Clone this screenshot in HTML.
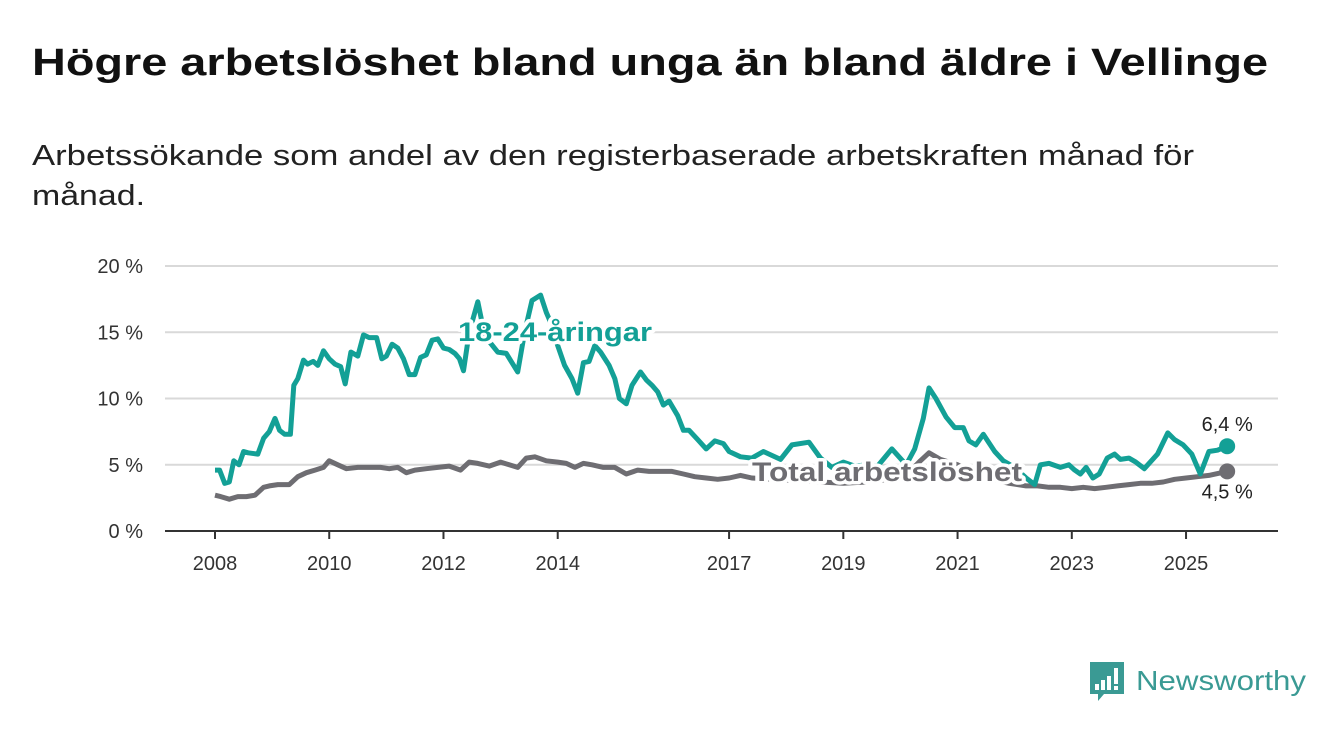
<!DOCTYPE html>
<html><head><meta charset="utf-8"><style>
body{margin:0;background:#fff;}
svg{display:block;font-family:"Liberation Sans","DejaVu Sans",sans-serif;}
</style></head><body>
<svg id="chart" width="1340" height="734" viewBox="0 0 1340 734">
<text x="32" y="75" font-size="38" font-weight="bold" fill="#111" textLength="1236" lengthAdjust="spacingAndGlyphs">Högre arbetslöshet bland unga än bland äldre i Vellinge</text>
<text x="32" y="165" font-size="29" fill="#222" textLength="1162" lengthAdjust="spacingAndGlyphs">Arbetssökande som andel av den registerbaserade arbetskraften månad för</text>
<text x="32" y="205" font-size="29" fill="#222" textLength="113" lengthAdjust="spacingAndGlyphs">månad.</text>
<g id="grid"></g><g id="axes"></g><g id="lines"></g><g id="labels"></g>
<g>
<path d="M1090 662h34v32h-20l-6 7v-7h-8z" fill="#3a9a94"/>
<rect x="1095" y="684" width="4" height="6" fill="#fff"/><rect x="1101" y="680" width="4" height="10" fill="#fff"/><rect x="1107" y="676" width="4" height="14" fill="#fff"/><rect x="1114" y="668" width="4" height="16" fill="#fff"/><rect x="1114" y="686" width="4" height="4" fill="#fff"/>
<text x="1136" y="690" font-size="28" fill="#3a9a94" textLength="170" lengthAdjust="spacingAndGlyphs">Newsworthy</text>
</g>
</svg>
<script>
const youthDates=[
2008.0,2008.08,2008.17,2008.25,2008.33,2008.42,2008.5,2008.58,2008.75,2008.85,2008.95,
2009.05,2009.13,2009.22,2009.32,2009.38,2009.45,2009.55,2009.62,2009.72,2009.8,2009.9,
2010.0,2010.1,2010.2,2010.28,2010.38,2010.5,2010.6,2010.7,2010.83,2010.92,
2011.0,2011.1,2011.2,2011.3,2011.4,2011.5,2011.6,2011.7,2011.8,2011.9,
2012.0,2012.1,2012.2,2012.28,2012.35,2012.45,2012.6,2012.7,2012.8,2012.95,
2013.1,2013.3,2013.42,2013.55,2013.7,2013.8,2013.9,
2014.0,2014.12,2014.25,2014.35,2014.45,2014.55,2014.65,2014.75,2014.9,
2015.0,2015.08,2015.2,2015.3,2015.45,2015.55,2015.65,2015.75,2015.85,2015.95,
2016.1,2016.2,2016.3,2016.45,2016.6,2016.75,2016.9,
2017.0,2017.2,2017.4,2017.6,2017.9,2018.1,2018.4,2018.6,2018.8,2019.0,2019.2,2019.4,2019.6,2019.85,
2020.1,2020.25,2020.4,2020.5,2020.62,2020.8,2020.95,
2021.1,2021.2,2021.32,2021.45,2021.65,2021.8,
2022.0,2022.2,2022.35,2022.45,2022.6,2022.8,2022.95,
2023.05,2023.15,2023.25,2023.37,2023.48,2023.62,2023.75,2023.85,
2024.0,2024.12,2024.27,2024.5,2024.68,2024.8,2024.95,
2025.1,2025.25,2025.4,2025.55,2025.72];
const youthValues=[
4.6,4.6,3.6,3.7,5.3,5.0,6.0,5.9,5.8,7.0,7.5,
8.5,7.6,7.3,7.3,11.0,11.5,12.9,12.6,12.8,12.5,13.6,
13.0,12.6,12.4,11.1,13.5,13.2,14.8,14.6,14.6,13.0,
13.2,14.1,13.8,13.0,11.8,11.8,13.1,13.3,14.4,14.5,
13.8,13.7,13.4,13.0,12.1,15.0,17.3,15.2,14.3,13.5,
13.4,12.0,15.0,17.4,17.8,16.5,15.5,
14.0,12.5,11.5,10.4,12.7,12.8,14.0,13.5,12.5,
11.5,10.0,9.6,11.0,12.0,11.4,11.0,10.5,9.5,9.8,
8.7,7.6,7.6,6.9,6.2,6.8,6.6,
6.0,5.6,5.5,6.0,5.4,6.5,6.7,5.5,4.8,5.2,4.9,5.0,4.9,6.2,
5.0,6.2,8.5,10.8,10.0,8.6,7.8,
7.8,6.8,6.5,7.3,6.0,5.3,
4.8,4.0,3.5,5.0,5.1,4.8,5.0,
4.6,4.3,4.8,4.0,4.3,5.5,5.8,5.4,
5.5,5.2,4.7,5.8,7.4,6.9,6.5,
5.8,4.3,6.0,6.1,6.4];
const totalDates=[2008.0,2008.1,2008.25,2008.4,2008.55,2008.7,2008.85,2008.95,2009.1,2009.3,2009.45,2009.6,2009.75,2009.9,2010.0,2010.15,2010.3,2010.5,2010.7,2010.9,2011.05,2011.2,2011.35,2011.5,2011.7,2011.9,2012.1,2012.3,2012.45,2012.6,2012.8,2013.0,2013.15,2013.3,2013.45,2013.6,2013.8,2014.0,2014.15,2014.3,2014.45,2014.6,2014.8,2015.0,2015.2,2015.4,2015.6,2015.8,2016.0,2016.2,2016.4,2016.6,2016.8,2017.0,2017.2,2017.4,2017.8,2018.2,2018.6,2019.0,2019.4,2019.8,2020.1,2020.35,2020.5,2020.7,2021.0,2021.3,2021.6,2021.9,2022.2,2022.4,2022.6,2022.8,2023.0,2023.2,2023.4,2023.6,2023.8,2024.0,2024.2,2024.4,2024.6,2024.8,2025.0,2025.2,2025.4,2025.72];
const totalValues=[2.7,2.6,2.4,2.6,2.6,2.7,3.3,3.4,3.5,3.5,4.1,4.4,4.6,4.8,5.3,5.0,4.7,4.8,4.8,4.8,4.7,4.8,4.4,4.6,4.7,4.8,4.9,4.6,5.2,5.1,4.9,5.2,5.0,4.8,5.5,5.6,5.3,5.2,5.1,4.8,5.1,5.0,4.8,4.8,4.3,4.6,4.5,4.5,4.5,4.3,4.1,4.0,3.9,4.0,4.2,4.0,3.9,3.8,3.7,3.6,3.7,3.9,4.2,5.3,5.9,5.4,5.0,4.2,3.9,3.6,3.4,3.4,3.3,3.3,3.2,3.3,3.2,3.3,3.4,3.5,3.6,3.6,3.7,3.9,4.0,4.1,4.2,4.5];
const yTicks=[0,5,10,15,20];
const yTickLabels=["0 %","5 %","10 %","15 %","20 %"];
const xTicks=[2008,2010,2012,2014,2017,2019,2021,2023,2025];
const xTickLabels=["2008","2010","2012","2014","2017","2019","2021","2023","2025"];

const NS="http://www.w3.org/2000/svg";
const x=v=>215+(v-2008)*57.12;
const y=v=>531-v*13.25;
function mk(tag,attrs,parent,txt){const e=document.createElementNS(NS,tag);for(const k in attrs)e.setAttribute(k,attrs[k]);if(txt!==undefined)e.textContent=txt;document.getElementById(parent).appendChild(e);return e;}
yTicks.forEach((t,i)=>{
  if(t>0){const g=mk('line',{x1:165,x2:1278,y1:y(t),y2:y(t),stroke:'#d9d9d9','stroke-width':2},'grid');
  
  }
  const l=mk('text',{x:143,y:y(t)+7,'text-anchor':'end','font-size':20,fill:'#333'},'axes',yTickLabels[i]);
  
  
});
const ax=mk('line',{x1:165,x2:1278,y1:531,y2:531,stroke:'#333','stroke-width':2},'axes');


xTicks.forEach((t,i)=>{
  const tk=mk('line',{x1:x(t),x2:x(t),y1:531,y2:539,stroke:'#333','stroke-width':2},'axes');
  
  
  const l=mk('text',{x:x(t),y:570,'text-anchor':'middle','font-size':20,fill:'#333'},'axes',xTickLabels[i]);
  
  
});
function path(d,v){const n=Math.min(d.length,v.length);let s='';for(let i=0;i<n;i++)s+=(i?'L':'M')+x(d[i]).toFixed(1)+' '+y(v[i]).toFixed(1);return s;}
const tl=mk('path',{d:path(totalDates,totalValues),fill:'none',stroke:'#6e6d72','stroke-width':5,'stroke-linejoin':'round'},'lines');


const yl=mk('path',{d:path(youthDates,youthValues),fill:'none',stroke:'#13a096','stroke-width':5,'stroke-linejoin':'round'},'lines');


const tn=Math.min(totalDates.length,totalValues.length)-1, yn=Math.min(youthDates.length,youthValues.length)-1;
const td=mk('circle',{cx:x(totalDates[tn]),cy:y(totalValues[tn]),r:8,fill:'#6e6d72'},'lines');


const yd=mk('circle',{cx:x(youthDates[yn]),cy:y(youthValues[yn]),r:8,fill:'#13a096'},'lines');


const halo={stroke:'#fff','stroke-width':7,'paint-order':'stroke','stroke-linejoin':'round'};
const l1=mk('text',Object.assign({x:458,y:341,'font-size':27,'font-weight':'bold',fill:'#13a096',textLength:194,lengthAdjust:'spacingAndGlyphs'},halo),'labels','18-24-åringar');


const l2=mk('text',Object.assign({x:752,y:481,'font-size':27,'font-weight':'bold',fill:'#6e6d72',textLength:270,lengthAdjust:'spacingAndGlyphs'},halo),'labels','Total arbetslöshet');


const v1=mk('text',Object.assign({x:x(youthDates[yn]),y:y(youthValues[yn])-15,'text-anchor':'middle','font-size':20,fill:'#222'},halo),'labels',youthValues[yn].toFixed(1).replace('.',',')+' %');


const v2=mk('text',Object.assign({x:x(totalDates[tn]),y:y(totalValues[tn])+27,'text-anchor':'middle','font-size':20,fill:'#222'},halo),'labels',totalValues[tn].toFixed(1).replace('.',',')+' %');


</script>
</body></html>
